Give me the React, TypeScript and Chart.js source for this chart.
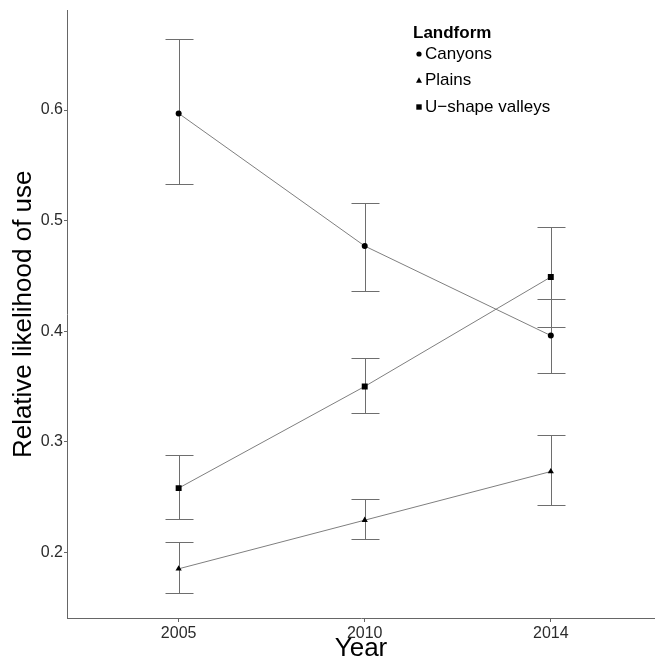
import React, { useEffect, useRef } from "react";
import { Chart, registerables } from "chart.js";

Chart.register(...registerables);

const years = ["2005", "2010", "2014"];
const yTickValues = [0.2, 0.3, 0.4, 0.5, 0.6];

const canyonsMean = [0.597, 0.477, 0.396];
const canyonsLow = [0.533, 0.436, 0.362];
const canyonsHigh = [0.664, 0.516, 0.429];

const plainsMean = [0.185, 0.229, 0.273];
const plainsLow = [0.163, 0.212, 0.243];
const plainsHigh = [0.209, 0.248, 0.306];

const valleysMean = [0.258, 0.35, 0.449];
const valleysLow = [0.23, 0.326, 0.404];
const valleysHigh = [0.288, 0.376, 0.494];

const seriesNames = ["Canyons", "Plains", "U\u2212shape valleys"];
const legendTitle = "Landform";
const xTitle = "Year";
const yTitle = "Relative likelihood of use";

const FONT = "'Liberation Sans', Arial, sans-serif";

const errorBars = [
  { low: canyonsLow, high: canyonsHigh },
  { low: plainsLow, high: plainsHigh },
  { low: valleysLow, high: valleysHigh },
];

const errorBarPlugin = {
  id: "errorBars",
  beforeDatasetsDraw(chart: any) {
    const { ctx, scales } = chart;
    const xs = scales.x;
    const ys = scales.y;
    ctx.save();
    ctx.strokeStyle = "#6e6e6e";
    ctx.lineWidth = 1;
    errorBars.forEach((eb) => {
      eb.low.forEach((lo: number, i: number) => {
        const hi = eb.high[i];
        const x = Math.round(xs.getPixelForValue(i)) + 0.5;
        const yl = Math.round(ys.getPixelForValue(lo)) + 0.5;
        const yh = Math.round(ys.getPixelForValue(hi)) + 0.5;
        ctx.beginPath();
        ctx.moveTo(x, yl);
        ctx.lineTo(x, yh);
        ctx.moveTo(x - 14, yl);
        ctx.lineTo(x + 14, yl);
        ctx.moveTo(x - 14, yh);
        ctx.lineTo(x + 14, yh);
        ctx.stroke();
      });
    });
    ctx.restore();
  },
};

const legendPlugin = {
  id: "customLegend",
  afterDraw(chart: any) {
    const { ctx } = chart;
    ctx.save();
    ctx.fillStyle = "#000";
    ctx.textBaseline = "middle";
    ctx.textAlign = "left";
    ctx.font = `bold 17px ${FONT}`;
    ctx.fillText(legendTitle, 413, 33);
    ctx.font = `17px ${FONT}`;
    const ys = [54, 80.5, 107];
    const mx = 419;
    seriesNames.forEach((name, i) => {
      const y = ys[i];
      ctx.fillStyle = "#000";
      ctx.beginPath();
      if (i === 0) {
        ctx.arc(mx, y, 2.6, 0, Math.PI * 2);
        ctx.fill();
      } else if (i === 1) {
        ctx.moveTo(mx, y - 3.2);
        ctx.lineTo(mx + 3, y + 2.2);
        ctx.lineTo(mx - 3, y + 2.2);
        ctx.closePath();
        ctx.fill();
      } else {
        ctx.rect(mx - 2.7, y - 2.7, 5.4, 5.4);
        ctx.fill();
      }
      ctx.fillText(name, 425, y);
    });
    ctx.restore();
  },
};

export default function App() {
  const canvasRef = useRef<HTMLCanvasElement | null>(null);

  useEffect(() => {
    document.body.style.margin = "0";
    const canvas = canvasRef.current;
    if (!canvas) return;
    const mk = (arr: number[]) => arr.map((v, i) => ({ x: i, y: v }));
    const chart = new Chart(canvas, {
      type: "line",
      data: {
        datasets: [
          {
            label: seriesNames[0],
            data: mk(canyonsMean),
            borderColor: "#7f7f7f",
            borderWidth: 1,
            pointStyle: "circle",
            pointRadius: 3,
            pointBackgroundColor: "#000",
            pointBorderWidth: 0,
          },
          {
            label: seriesNames[1],
            data: mk(plainsMean),
            borderColor: "#7f7f7f",
            borderWidth: 1,
            pointStyle: "triangle",
            pointRadius: 3.6,
            pointBackgroundColor: "#000",
            pointBorderWidth: 0,
          },
          {
            label: seriesNames[2],
            data: mk(valleysMean),
            borderColor: "#7f7f7f",
            borderWidth: 1,
            pointStyle: "rect",
            pointRadius: 4.2,
            pointBackgroundColor: "#000",
            pointBorderWidth: 0,
          },
        ] as any,
      },
      options: {
        animation: false,
        responsive: false,
        maintainAspectRatio: false,
        layout: { autoPadding: false, padding: { top: 9, right: 0, left: 0, bottom: 0 } },
        plugins: {
          legend: { display: false },
          tooltip: { enabled: false },
        },
        scales: {
          x: {
            type: "linear",
            min: -0.6,
            max: 2.56,
            afterBuildTicks: (scale: any) => {
              scale.ticks = years.map((_, i) => ({ value: i }));
            },
            afterFit: (scale: any) => {
              scale.height = 42;
              scale.paddingLeft = 0;
              scale.paddingRight = 0;
            },
            ticks: {
              callback: (v: any) => years[v as number] ?? "",
              font: { family: FONT, size: 16 },
              color: "#2b2b2b",
              padding: 2,
              maxRotation: 0,
            },
            grid: {
              drawOnChartArea: false,
              drawTicks: true,
              tickLength: 4,
              color: "#666",
            },
            border: { display: true, color: "#666", width: 1 },
            title: {
              display: true,
              text: xTitle,
              font: { family: FONT, size: 26, lineHeight: 1 },
              color: "#000",
              padding: { top: 0, bottom: -2 },
            },
          },
          y: {
            type: "linear",
            min: 0.1405,
            max: 0.69,
            afterBuildTicks: (scale: any) => {
              scale.ticks = yTickValues.map((v) => ({ value: v }));
            },
            afterFit: (scale: any) => {
              scale.width = 67;
            },
            ticks: {
              callback: (v: any) => Number(v).toFixed(1),
              font: { family: FONT, size: 16 },
              color: "#2b2b2b",
              padding: 1,
            },
            grid: {
              drawOnChartArea: false,
              drawTicks: true,
              tickLength: 3,
              color: "#666",
            },
            border: { display: true, color: "#666", width: 1 },
            title: {
              display: true,
              text: yTitle,
              font: { family: FONT, size: 26, lineHeight: 1.2 },
              color: "#000",
              padding: { top: 8, bottom: 0 },
            },
          },
        },
      } as any,
      plugins: [errorBarPlugin, legendPlugin],
    });
    return () => chart.destroy();
  }, []);

  return (
    <div style={{ width: 655, height: 660 }}>
      <canvas ref={canvasRef} width={655} height={660} style={{ display: "block" }} />
    </div>
  );
}
